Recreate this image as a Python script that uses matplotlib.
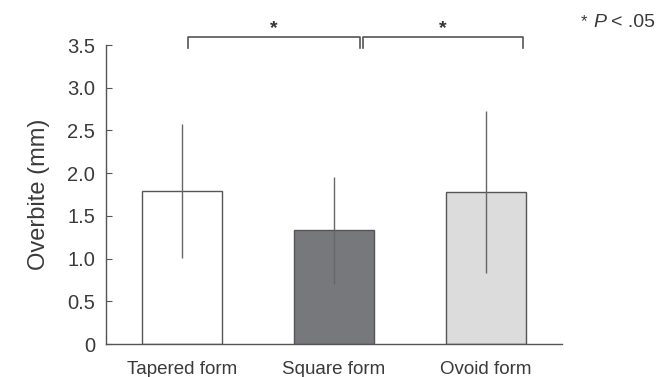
import matplotlib.pyplot as plt

plt.rcParams['font.family'] = ['Liberation Sans', 'DejaVu Sans']

# Data
groups = ["Tapered form", "Square form", "Ovoid form"]
means = [1.79, 1.33, 1.78]
sds = [0.78, 0.63, 0.95]
bar_colors = ["#ffffff", "#77787b", "#dcdcdd"]

# significance brackets (x start, x end)
brackets = [(0.04, 1.17), (1.19, 2.24)]

txt = "#3a3a3a"

fig = plt.figure(figsize=(6.71, 3.77), dpi=100)
ax = fig.add_axes([0.158, 0.0875, 0.6796, 0.7931])

x = range(len(groups))
ax.bar(x, means, width=0.53, color=bar_colors, edgecolor="#555555", linewidth=1.0, zorder=2)
ax.errorbar(x, means, yerr=sds, fmt="none", ecolor="#666666", elinewidth=1.0, capsize=0, zorder=3)

ax.set_xlim(-0.5, 2.5)
ax.set_ylim(0, 3.5)
ax.set_yticks([0, 0.5, 1.0, 1.5, 2.0, 2.5, 3.0, 3.5])
ax.set_yticklabels(["0", "0.5", "1.0", "1.5", "2.0", "2.5", "3.0", "3.5"])
ax.set_xticks(list(x))
ax.set_xticklabels(groups)

for side in ["top", "right"]:
    ax.spines[side].set_visible(False)
for side in ["left", "bottom"]:
    ax.spines[side].set_color("#555555")
    ax.spines[side].set_linewidth(1.0)

ax.tick_params(axis="y", direction="in", length=4, color="#555555", labelsize=14.5, labelcolor=txt, pad=8)
ax.tick_params(axis="x", length=0, labelsize=13.5, labelcolor=txt, pad=12)
ax.set_ylabel("Overbite (mm)", fontsize=17, color=txt, labelpad=12)

# brackets and stars
for x0, x1 in brackets:
    ax.plot([x0, x0, x1, x1], [3.46, 3.59, 3.59, 3.46], color="#555555", lw=1.2,
            clip_on=False, zorder=4)
    ax.text((x0 + x1) / 2, 3.635, "*", ha="center", va="baseline", fontsize=14,
            fontweight="bold", color="#333333", clip_on=False)

fig.text(0.866, 0.943, "*", fontsize=12, color=txt, ha="left", va="center")
fig.text(0.885, 0.94, "P", fontsize=14, fontstyle="italic", color=txt, ha="left", va="center")
fig.text(0.911, 0.94, "< .05", fontsize=14, color=txt, ha="left", va="center")

plt.savefig("out.png", dpi=100)
